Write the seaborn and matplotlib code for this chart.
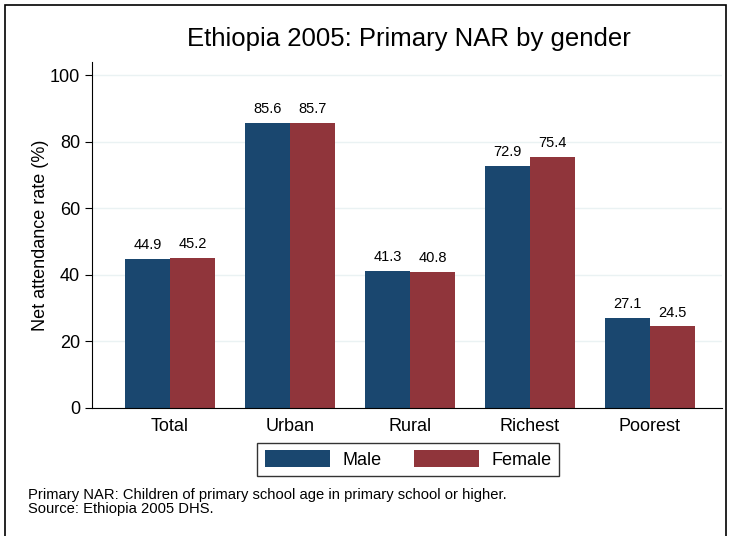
import matplotlib
matplotlib.use("Agg")
import matplotlib.pyplot as plt
import seaborn as sns
import pandas as pd
from matplotlib.patches import Rectangle

categories = ["Total", "Urban", "Rural", "Richest", "Poorest"]
male = [44.9, 85.6, 41.3, 72.9, 27.1]
female = [45.2, 85.7, 40.8, 75.4, 24.5]
yticks = [0, 20, 40, 60, 80, 100]

df = pd.DataFrame({
    "cat": categories * 2,
    "val": male + female,
    "sex": ["Male"] * len(categories) + ["Female"] * len(categories),
})

sns.set_style("white")
plt.rcParams["font.family"] = ["Liberation Sans", "DejaVu Sans"]
plt.rcParams["text.color"] = "black"
plt.rcParams["axes.labelcolor"] = "black"
plt.rcParams["xtick.color"] = "black"
plt.rcParams["ytick.color"] = "black"

fig = plt.figure(figsize=(7.3, 5.36), dpi=100)
ax = fig.add_axes([0.126, 0.239, 0.863, 0.645])

palette = {"Male": "#1a476f", "Female": "#90353b"}
sns.barplot(data=df, x="cat", y="val", hue="sex", palette=palette, width=0.75,
            saturation=1, ax=ax, edgecolor="none", linewidth=0)

for c in ax.containers:
    ax.bar_label(c, fmt="%.1f", padding=5, fontsize=10.5)

ax.set_xlim(-0.65, 4.6)
ax.set_ylim(0, 104)
ax.set_yticks(yticks)
ax.yaxis.grid(True, color="#eaf2f3", linewidth=1)
ax.set_axisbelow(True)
for s in ["top", "right"]:
    ax.spines[s].set_visible(False)
ax.spines["left"].set_color("black")
ax.spines["bottom"].set_color("black")
ax.spines["left"].set_linewidth(0.8)
ax.spines["bottom"].set_linewidth(0.8)
ax.tick_params(axis="y", left=True, length=5, width=0.8, labelsize=13, color="black")
ax.tick_params(axis="x", bottom=False, labelsize=13, pad=4)
ax.set_xlabel("")
ax.set_ylabel("Net attendance rate (%)", fontsize=13, labelpad=1)

fig.text(0.56, 0.928, "Ethiopia 2005: Primary NAR by gender", ha="center", va="center", fontsize=18.5)

leg = ax.legend(loc="upper center", bbox_to_anchor=(0.502, -0.075), ncol=2, frameon=True,
                fontsize=13, handlelength=3.6, handleheight=1.05, columnspacing=1.8,
                handletextpad=0.7, borderpad=0.4, fancybox=False, borderaxespad=0.5)
leg.get_frame().set_edgecolor("black")
leg.get_frame().set_linewidth(1.0)

fig.text(0.038, 0.064, "Primary NAR: Children of primary school age in primary school or higher.\nSource: Ethiopia 2005 DHS.",
         ha="left", va="center", fontsize=10.6, linespacing=1.0)

fig.patches.append(Rectangle((0.007, -0.01), 0.988, 1.0, transform=fig.transFigure,
                             fill=False, edgecolor="black", linewidth=1.2))

fig.savefig("out.png", dpi=100)
